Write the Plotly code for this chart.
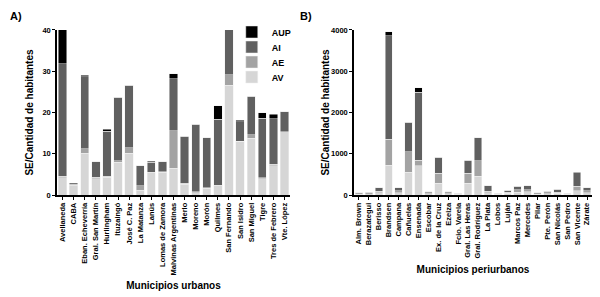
import plotly.graph_objects as go
from plotly.subplots import make_subplots

# Panel A: urban municipalities
urb_names = ["Avellaneda", "CABA", "Eban. Echeverría", "Gral. San Martín", "Hurlingham",
             "Ituzaingó", "José C. Paz", "La Matanza", "Lanús", "Lomas de Zamora",
             "Malvinas Argentinas", "Merlo", "Moreno", "Morón", "Quilmes", "San Fernando",
             "San Isidro", "San Miguel", "Tigre", "Tres de Febrero", "Vte. López"]
urb_AV = [4.2, 2.3, 10.1, 4.0, 4.3, 7.9, 10.1, 1.2, 5.4, 5.5, 6.5, 2.6, 0.6, 1.6, 2.3, 26.6, 13.0, 13.8, 4.0, 7.1, 15.3]
urb_AE = [0.3, 0.1, 1.1, 0.3, 0.3, 0.4, 1.4, 1.1, 0.1, 0.1, 9.1, 0.2, 0.2, 0.2, 0.1, 2.5, 0.0, 0.8, 0.2, 0.3, 0.0]
urb_AI = [27.3, 0.2, 17.5, 3.8, 10.9, 15.4, 15.1, 4.8, 2.4, 2.5, 12.6, 11.4, 16.4, 12.1, 16.0, 10.9, 4.8, 9.3, 14.4, 11.1, 4.9]
urb_AUP = [8.2, 0.3, 0.3, 0.0, 0.5, 0.0, 0.0, 0.0, 0.3, 0.0, 1.2, 0.0, 0.0, 0.0, 3.2, 0.0, 0.3, 0.0, 1.4, 1.1, 0.0]

# Panel B: peri-urban municipalities
peri_names = ["Alm. Brown", "Berazategui", "Berisso", "Brandsen", "Campana", "Cañuelas",
              "Ensenada", "Escobar", "Ex. de la Cruz", "Ezeiza", "Fcio. Varela",
              "Gral. Las Heras", "Gral. Rodríguez", "La Plata", "Lobos", "Luján",
              "Marcos Paz", "Mercedes", "Pilar", "Pte. Perón", "San Nicolás",
              "San Pedro", "San Vicente", "Zárate"]
peri_AV = [20, 25, 50, 723, 60, 546, 707, 30, 290, 30, 15, 290, 450, 60, 15, 40, 70, 80, 20, 30, 40, 15, 105, 60]
peri_AE = [10, 10, 40, 627, 40, 498, 136, 20, 232, 20, 10, 240, 377, 30, 10, 30, 60, 50, 15, 20, 30, 10, 105, 40]
peri_AI = [20, 30, 90, 2505, 80, 723, 1647, 30, 388, 25, 15, 313, 563, 130, 15, 50, 80, 90, 20, 45, 65, 15, 330, 80]
peri_AUP = [0, 0, 0, 105, 0, 0, 104, 0, 0, 0, 0, 0, 0, 0, 0, 0, 0, 0, 0, 0, 0, 0, 10, 0]

series = ["AV", "AE", "AI", "AUP"]
colors = {"AV": "#d6d6d6", "AE": "#a3a3a3", "AI": "#606060", "AUP": "#000000"}
legend_ids = {"AUP": "legend", "AI": "legend2", "AE": "legend3", "AV": "legend4"}
legend_y = {"legend": 0.917, "legend2": 0.865, "legend3": 0.813, "legend4": 0.761}

FONT = "Liberation Sans"

fig = make_subplots(rows=1, cols=2)

urb_data = {"AV": urb_AV, "AE": urb_AE, "AI": urb_AI, "AUP": urb_AUP}
peri_data = {"AV": peri_AV, "AE": peri_AE, "AI": peri_AI, "AUP": peri_AUP}

for s in series:
    fig.add_trace(go.Bar(x=urb_names, y=urb_data[s], name=s, marker_color=colors[s],
                         marker_line=dict(color="#f0f0f0", width=0.5), legendgroup=s,
                         legend=legend_ids[s], showlegend=True), row=1, col=1)
for s in series:
    fig.add_trace(go.Bar(x=peri_names, y=peri_data[s], name=s, marker_color=colors[s],
                         marker_line=dict(color="#f0f0f0", width=0.5), legendgroup=s,
                         showlegend=False), row=1, col=2)

axis_common = dict(showline=True, linecolor="black", linewidth=1.5, ticks="outside",
                   ticklen=3, tickcolor="black", tickwidth=1, showgrid=False, zeroline=False,
                   automargin=False,
                   tickfont=dict(family=FONT, size=7.5, color="black", weight="bold"))

title_font = dict(family=FONT, size=10, color="black", weight="bold")

y_dom = [0.3529, 0.9239]
fig.update_xaxes(**axis_common, tickangle=-90, tickmode="linear", dtick=1,
                 range=[-0.5, len(urb_names) - 0.5],
                 domain=[0.0828, 0.4764], row=1, col=1,
                 title=dict(text="Municipios urbanos", font=title_font, standoff=8))
fig.update_xaxes(**axis_common, tickangle=-90, tickmode="linear", dtick=1,
                 range=[-0.5, len(peri_names) - 0.5],
                 domain=[0.5845, 0.9865], row=1, col=2,
                 title=dict(text="Municipios periurbanos", font=title_font, standoff=8))
fig.update_yaxes(**axis_common, range=[0, 40], tickvals=[0, 10, 20, 30, 40], domain=y_dom, row=1, col=1,
                 title=dict(text="SE/Cantidad de habitantes", font=title_font, standoff=7))
fig.update_yaxes(**axis_common, range=[0, 4000], tickvals=[0, 1000, 2000, 3000, 4000], domain=y_dom, row=1, col=2,
                 title=dict(text="SE/Cantidad de habitantes", font=title_font, standoff=0))

legend_font = dict(family=FONT, size=9, color="black", weight="bold")
legends = {}
for lid, yv in legend_y.items():
    legends[lid] = dict(x=0.378, y=yv, xanchor="left", yanchor="middle",
                        font=legend_font, itemwidth=30, bgcolor="rgba(0,0,0,0)")

fig.update_layout(
    width=592, height=289, barmode="stack", bargap=0.25,
    margin=dict(l=0, r=0, t=0, b=0),
    plot_bgcolor="white", paper_bgcolor="white",
    annotations=[
        dict(text="A)", x=0.0, y=1.0, xref="paper", yref="paper", showarrow=False,
             xanchor="left", yanchor="top", font=dict(family=FONT, size=11, color="black", weight="bold")),
        dict(text="B)", x=0.49, y=1.0, xref="paper", yref="paper", showarrow=False,
             xanchor="left", yanchor="top", font=dict(family=FONT, size=11, color="black", weight="bold")),
    ],
    **legends,
)

fig.write_html("out.html")
